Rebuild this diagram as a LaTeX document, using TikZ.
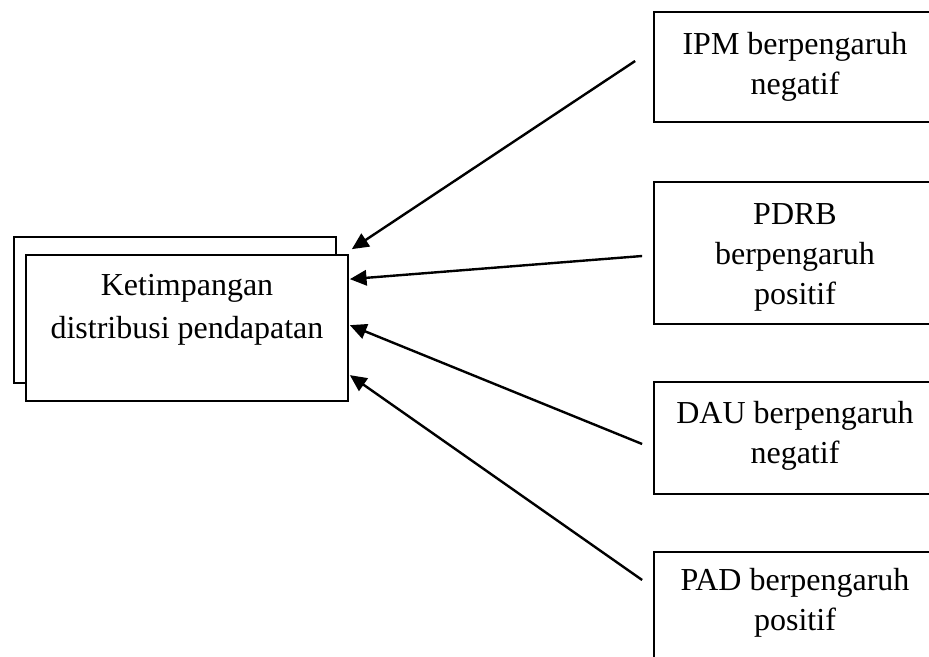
\documentclass[tikz,border=0pt]{standalone}
\usepackage{fontspec}
\setmainfont{Liberation Serif}
\usetikzlibrary{arrows.meta,calc}
\begin{document}
\begin{tikzpicture}[x=0.75pt,y=-0.75pt,
  box/.style={draw, line width=1.3pt, inner sep=0pt, fill=white},
  txt/.style={align=center, inner sep=0pt, font=\fontsize{24pt}{30pt}\selectfont},
  frtxt/.style={align=center, inner sep=0pt, font=\fontsize{24pt}{32pt}\selectfont},
  link/.style={line width=1.8pt, -{Triangle[length=12.5pt,width=11.5pt]}}]
\useasboundingbox (0,0) rectangle (929,657);
\clip (0,0) rectangle (929,657);
% left stacked boxes
\node[box, minimum width=241.5pt, minimum height=109.5pt] (back) at (175,310) {};
\node[box, minimum width=241.5pt, minimum height=109.5pt] (front) at (187,328) {};
\node[frtxt] (ftext) at (187,310) {Ketimpangan\\distribusi pendapatan};
% right boxes
\node[box, minimum width=211.5pt, minimum height=82.5pt] (b1) at (795,67) {};
\node[txt] (t1) at (795,66.6) {IPM berpengaruh\\negatif};
\node[box, minimum width=211.5pt, minimum height=106.5pt] (b2) at (795,253) {};
\node[txt] (t2) at (795,257.6) {PDRB\\berpengaruh\\positif};
\node[box, minimum width=211.5pt, minimum height=84pt] (b3) at (795,438) {};
\node[txt] (t3) at (795,435.6) {DAU berpengaruh\\negatif};
\node[box, minimum width=211.5pt, minimum height=84pt] (b4) at (795,608) {};
\node[txt] (t4) at (795,602.6) {PAD berpengaruh\\positif};
% connector ends
\coordinate (s1) at ($(b1.west)+(-18,-6)$);
\coordinate (s2) at ($(b2.west)+(-11,3)$);
\coordinate (s3) at ($(b3.west)+(-11,6)$);
\coordinate (s4) at ($(b4.west)+(-11,-28)$);
\coordinate (e1) at ($(front.north east)+(3,-5)$);
\coordinate (e2) at ($(front.north east)+(1,25)$);
\coordinate (e3) at ($(front.north east)+(1,71)$);
\coordinate (e4) at ($(front.north east)+(1,121)$);
\draw[link] (s1) -- (e1);
\draw[link] (s2) -- (e2);
\draw[link] (s3) -- (e3);
\draw[link] (s4) -- (e4);
\end{tikzpicture}
\end{document}
